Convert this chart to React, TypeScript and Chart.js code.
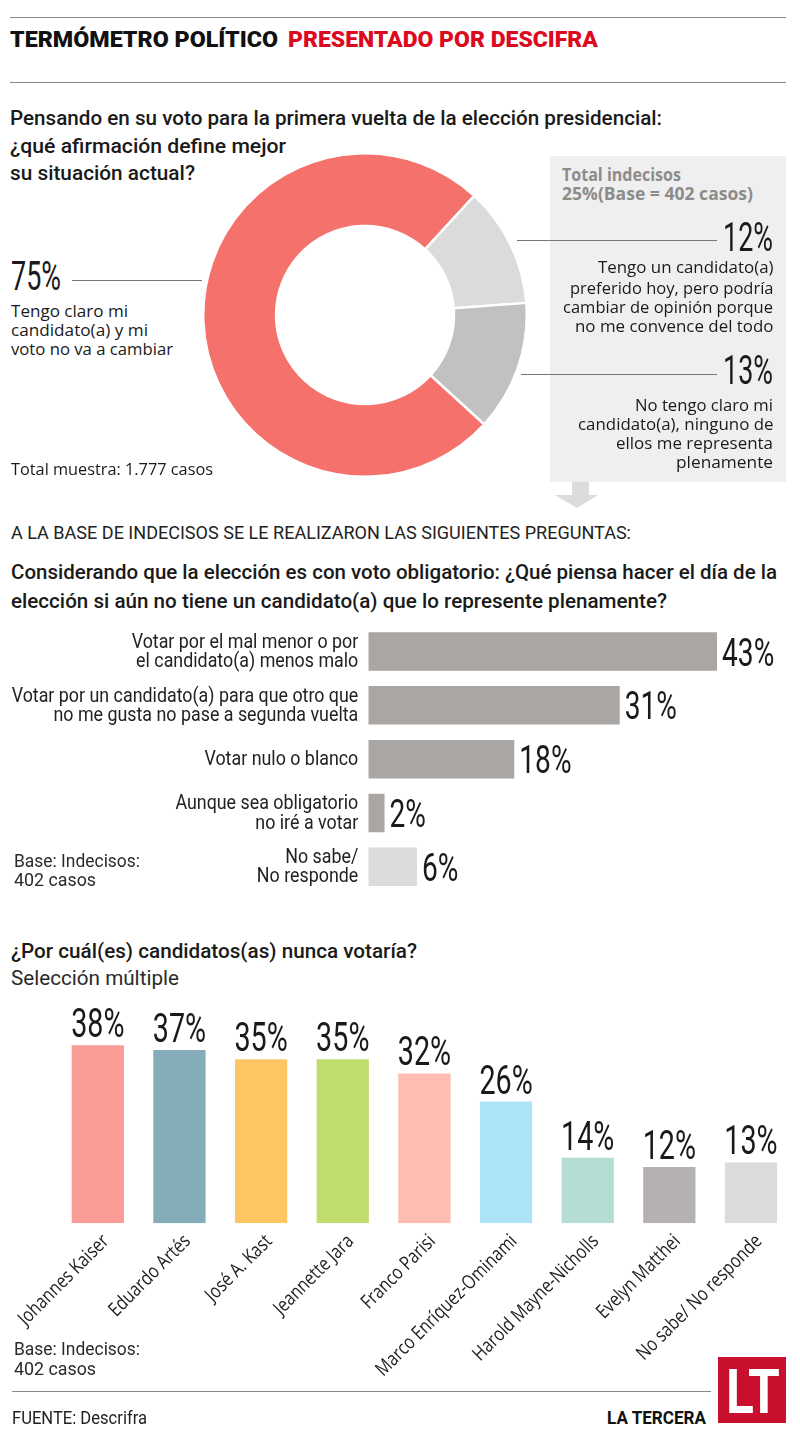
import React, { useEffect, useLayoutEffect, useRef } from "react";
import { Chart, registerables } from "chart.js";
Chart.register(...registerables);

const NUM = 'Roboto, "DejaVu Sans", sans-serif';
const BODY = '"Open Sans", "Noto Sans", sans-serif';

// ---------- data ----------
const donutCategories = [
  "Tengo claro mi candidato(a) y mi voto no va a cambiar",
  "Tengo un candidato(a) preferido hoy, pero podría cambiar de opinión porque no me convence del todo",
  "No tengo claro mi candidato(a), ninguno de ellos me representa plenamente",
];
const donutValues = [75, 12, 13];
const donutColors = ["#f4726b", "#dcdbdb", "#c2c1c0"];

const optionLabels = [
  ["Votar por el mal menor o por", "el candidato(a) menos malo"],
  ["Votar por un candidato(a) para que otro que", "no me gusta no pase a segunda vuelta"],
  ["Votar nulo o blanco"],
  ["Aunque sea obligatorio", "no iré a votar"],
  ["No sabe/", "No responde"],
];
const optionValues = [43, 31, 18, 2, 6];
const optionColors = ["#a9a6a3", "#a9a6a3", "#a9a6a3", "#a9a6a3", "#dcdcdc"];

const candidateLabels = [
  "Johannes Kaiser",
  "Eduardo Artés",
  "José A. Kast",
  "Jeannette Jara",
  "Franco Parisi",
  "Marco Enríquez-Ominami",
  "Harold Mayne-Nicholls",
  "Evelyn Matthei",
  "No sabe/ No responde",
];
const candidateValues = [38, 37, 35, 35, 32, 26, 14, 12, 13];
const candidateColors = [
  "#f99d96", "#85adb9", "#fdc662", "#bfdd6c", "#fdbdb1",
  "#ade3f7", "#b4ddd4", "#b4b1b0", "#dcdcdc",
];

// ---------- canvas text helpers ----------
function drawScaled(
  ctx: CanvasRenderingContext2D, text: string, x: number, y: number,
  font: string, sx: number, align: string, color: string, baseline: CanvasTextBaseline = "alphabetic",
) {
  ctx.save();
  ctx.font = font;
  ctx.fillStyle = color;
  ctx.textBaseline = baseline;
  ctx.textAlign = "left";
  const w = ctx.measureText(text).width * sx;
  const left = align === "center" ? x - w / 2 : align === "right" ? x - w : x;
  ctx.translate(left, y);
  ctx.scale(sx, 1);
  ctx.fillText(text, 0, 0);
  ctx.restore();
}

const hValuePlugin = {
  id: "hValues",
  afterDatasetsDraw(chart: any) {
    const meta = chart.getDatasetMeta(0);
    meta.data.forEach((bar: any, i: number) => {
      const v = chart.data.datasets[0].data[i];
      drawScaled(chart.ctx, `${v}%`, bar.x + 5, bar.y + 14, `400 38px ${NUM}`, 0.74, "left", "#1a1a1a");
    });
  },
};

const hTickPlugin = {
  id: "hTicks",
  afterDraw(chart: any) {
    const ys = chart.scales.y;
    const ctx = chart.ctx;
    const right = chart.chartArea.left - 10;
    const lh = 19.4;
    (chart.data.labels as string[][]).forEach((lines, i) => {
      const y = ys.getPixelForTick(i);
      const n = lines.length;
      lines.forEach((ln, j) => {
        const yy = y + (j - (n - 1) / 2) * lh + 6;
        drawScaled(ctx, ln, right, yy, `400 19.5px ${NUM}`, 0.915, "right", "#222");
      });
    });
  },
};

const vValuePlugin = {
  id: "vValues",
  afterDatasetsDraw(chart: any) {
    const meta = chart.getDatasetMeta(0);
    meta.data.forEach((bar: any, i: number) => {
      const v = chart.data.datasets[0].data[i];
      drawScaled(chart.ctx, `${v}%`, bar.x, bar.y - 8, `400 41px ${NUM}`, 0.7, "center", "#1a1a1a");
    });
  },
};

const vTickPlugin = {
  id: "vTicks",
  afterDraw(chart: any) {
    const xs = chart.scales.x;
    const ctx = chart.ctx;
    const base = chart.chartArea.bottom;
    (chart.data.labels as string[]).forEach((label, i) => {
      const x = xs.getPixelForTick(i);
      ctx.save();
      ctx.translate(x + 8, base + 15);
      ctx.rotate(-Math.PI / 4);
      ctx.scale(0.82, 1);
      ctx.font = `400 19.5px ${BODY}`;
      ctx.fillStyle = "#222";
      ctx.textAlign = "right";
      ctx.textBaseline = "middle";
      ctx.fillText(label, 0, 0);
      ctx.restore();
    });
  },
};

// ---------- html text ----------
type TP = {
  x: number; y: number; w?: number; size: number; text: string;
  weight?: number; color?: string; family?: string; right?: boolean;
};
function T({ x, y, w, size, text, weight = 400, color = "#1a1a1a", family = NUM, right = false }: TP) {
  const ref = useRef<HTMLDivElement>(null);
  useLayoutEffect(() => {
    const el = ref.current;
    if (!el || !w) return;
    el.style.transform = "none";
    const nat = el.getBoundingClientRect().width;
    if (nat > 0) el.style.transform = `scaleX(${w / nat})`;
  }, [w, text, size]);
  const left = right && w ? x - w : x;
  return (
    <div
      ref={ref}
      style={{
        position: "absolute", left, top: y - size / 2, fontSize: size,
        lineHeight: `${size}px`, fontWeight: weight, color, fontFamily: family,
        whiteSpace: "nowrap", transformOrigin: "0 0",
      }}
    >
      {text}
    </div>
  );
}

function HLine({ x1, x2, y, color = "#8a8a8a" }: { x1: number; x2: number; y: number; color?: string }) {
  return <div style={{ position: "absolute", left: x1, top: y - 0.5, width: x2 - x1, height: 1, background: color }} />;
}

function Donut() {
  const ref = useRef<HTMLCanvasElement>(null);
  useEffect(() => {
    const c = new Chart(ref.current as HTMLCanvasElement, {
      type: "doughnut",
      data: {
        labels: donutCategories,
        datasets: [{ data: donutValues, backgroundColor: donutColors, borderColor: "#ffffff", borderWidth: 2.5 }],
      },
      options: {
        responsive: false, animation: false, devicePixelRatio: 1, events: [],
        rotation: 132.5, cutout: "55%",
        plugins: { legend: { display: false }, tooltip: { enabled: false } },
      } as any,
    });
    return () => c.destroy();
  }, []);
  return <canvas ref={ref} width={326} height={326} style={{ position: "absolute", left: 202, top: 152 }} />;
}

function HBars() {
  const ref = useRef<HTMLCanvasElement>(null);
  useEffect(() => {
    const c = new Chart(ref.current as HTMLCanvasElement, {
      type: "bar",
      data: {
        labels: optionLabels as any,
        datasets: [{ data: optionValues, backgroundColor: optionColors, barPercentage: 0.716, categoryPercentage: 1 }],
      },
      options: {
        indexAxis: "y", responsive: false, animation: false, devicePixelRatio: 1, events: [],
        layout: { padding: { top: 24.6, bottom: 6.3, left: 0, right: 26.2 } },
        plugins: { legend: { display: false }, tooltip: { enabled: false } },
        scales: {
          x: { display: false, min: 0, max: 50 },
          y: {
            grid: { display: false, drawTicks: false },
            border: { display: false },
            ticks: { display: false },
            afterFit: (s: any) => { s.width = 368.3; },
          },
        },
      } as any,
      plugins: [hValuePlugin, hTickPlugin],
    });
    return () => c.destroy();
  }, []);
  return <canvas ref={ref} width={800} height={300} style={{ position: "absolute", left: 0, top: 600 }} />;
}

function VBars() {
  const ref = useRef<HTMLCanvasElement>(null);
  useEffect(() => {
    const c = new Chart(ref.current as HTMLCanvasElement, {
      type: "bar",
      data: {
        labels: candidateLabels,
        datasets: [{ data: candidateValues, backgroundColor: candidateColors, barPercentage: 0.64, categoryPercentage: 1 }],
      },
      options: {
        responsive: false, animation: false, devicePixelRatio: 1, events: [],
        layout: { padding: { top: 22.5, left: 57, right: 8.2, bottom: 0 } },
        plugins: { legend: { display: false }, tooltip: { enabled: false } },
        scales: {
          y: { display: false, min: 0, max: 45 },
          x: {
            grid: { display: false, drawTicks: false },
            border: { display: false },
            ticks: { display: false },
            afterFit: (s: any) => { s.height = 156.7; s.paddingLeft = 0; s.paddingRight = 0; },
          },
        },
      } as any,
      plugins: [vValuePlugin, vTickPlugin],
    });
    return () => c.destroy();
  }, []);
  return <canvas ref={ref} width={800} height={390} style={{ position: "absolute", left: 0, top: 990 }} />;
}

export default function App() {
  return (
    <div style={{ position: "absolute", left: 0, top: 0, width: 800, height: 1444, background: "#fff", overflow: "hidden" }}>
      {/* header */}
      <HLine x1={10} x2={786} y={17} />
      <T x={10} y={39.5} w={268} size={22} weight={900} text="TERMÓMETRO POLÍTICO" color="#111" />
      <T x={288} y={39.5} w={310} size={22} weight={900} text="PRESENTADO POR DESCIFRA" color="#dc0a1e" />
      <HLine x1={10} x2={786} y={82} />

      {/* question 1 */}
      <T x={10} y={118} w={652} size={21} weight={500} text="Pensando en su voto para la primera vuelta de la elección presidencial:" />
      <T x={10} y={146} w={276} size={21} weight={500} text="¿qué afirmación define mejor" />
      <T x={10} y={173} w={185} size={21} weight={500} text="su situación actual?" />

      {/* panel */}
      <div style={{ position: "absolute", left: 550, top: 156, width: 236, height: 326, background: "#efefef" }} />
      <svg style={{ position: "absolute", left: 553, top: 482 }} width={48} height={28}>
        <polygon points="19,0 36,0 36,13 45,13 24,26 2,13 19,13" fill="#dcdcdc" />
      </svg>
      <T x={562} y={174} w={119} size={17} weight={700} family={BODY} color="#8c8c8c" text="Total indecisos" />
      <T x={562} y={193} w={191} size={17} weight={700} family={BODY} color="#8c8c8c" text="25%(Base = 402 casos)" />

      <Donut />

      {/* donut labels */}
      <T x={11} y={277} w={50} size={40} weight={400} text={`${donutValues[0]}%`} />
      <HLine x1={72} x2={202} y={280.7} color="#777" />
      <T x={11} y={311} w={117} size={16.5} family={BODY} text="Tengo claro mi" />
      <T x={11} y={330} w={137} size={16.5} family={BODY} text="candidato(a) y mi" />
      <T x={11} y={349} w={162} size={16.5} family={BODY} text="voto no va a cambiar" />
      <T x={11} y={469} w={202} size={16.5} family={BODY} text="Total muestra: 1.777 casos" />

      <HLine x1={516.7} x2={716.7} y={240.7} color="#777" />
      <T x={773} y={237.5} w={50} size={40} weight={400} right text={`${donutValues[1]}%`} />
      <T x={773} y={267.5} w={175.5} size={16.5} family={BODY} right text="Tengo un candidato(a)" />
      <T x={773} y={288} w={203.5} size={16.5} family={BODY} right text="preferido hoy, pero podría" />
      <T x={773} y={307.5} w={210} size={16.5} family={BODY} right text="cambiar de opinión porque" />
      <T x={773} y={326.5} w={198.5} size={16.5} family={BODY} right text="no me convence del todo" />

      <HLine x1={521} x2={716.7} y={374.3} color="#777" />
      <T x={773} y={370.5} w={50} size={40} weight={400} right text={`${donutValues[2]}%`} />
      <T x={773} y={405} w={138} size={16.5} family={BODY} right text="No tengo claro mi" />
      <T x={773} y={424} w={195.5} size={16.5} family={BODY} right text="candidato(a), ninguno de" />
      <T x={773} y={443} w={157} size={16.5} family={BODY} right text="ellos me representa" />
      <T x={773} y={462} w={97} size={16.5} family={BODY} right text="plenamente" />

      {/* section 2 */}
      <T x={11} y={533} w={620} size={18} text="A LA BASE DE INDECISOS SE LE REALIZARON LAS SIGUIENTES PREGUNTAS:" color="#222" />
      <T x={11} y={572} w={766} size={21} weight={500} text="Considerando que la elección es con voto obligatorio: ¿Qué piensa hacer el día de la" />
      <T x={11} y={601} w={656} size={21} weight={500} text="elección si aún no tiene un candidato(a) que lo represente plenamente?" />
      <HBars />
      <T x={14} y={860} w={126} size={19} text="Base: Indecisos:" color="#2a2a2a" />
      <T x={14} y={879} w={82} size={19} text="402 casos" color="#2a2a2a" />

      {/* section 3 */}
      <T x={11} y={951.5} w={406} size={21} weight={500} text="¿Por cuál(es) candidatos(as) nunca votaría?" />
      <T x={11} y={978} w={168} size={21} text="Selección múltiple" color="#2a2a2a" />
      <VBars />
      <T x={14} y={1348} w={126} size={19} text="Base: Indecisos:" color="#2a2a2a" />
      <T x={14} y={1368} w={82} size={19} text="402 casos" color="#2a2a2a" />

      {/* footer */}
      <HLine x1={12} x2={711} y={1391} />
      <T x={12} y={1418} w={135} size={18} text="FUENTE: Descrifra" color="#222" />
      <T x={607} y={1418} w={99} size={18} weight={700} text="LA TERCERA" color="#111" />
      <div style={{ position: "absolute", left: 718, top: 1357, width: 68, height: 66, background: "#c8102e" }} />
      <T x={726} y={1392} w={54} size={62} weight={700} text="LT" color="#ffffff" />
    </div>
  );
}
